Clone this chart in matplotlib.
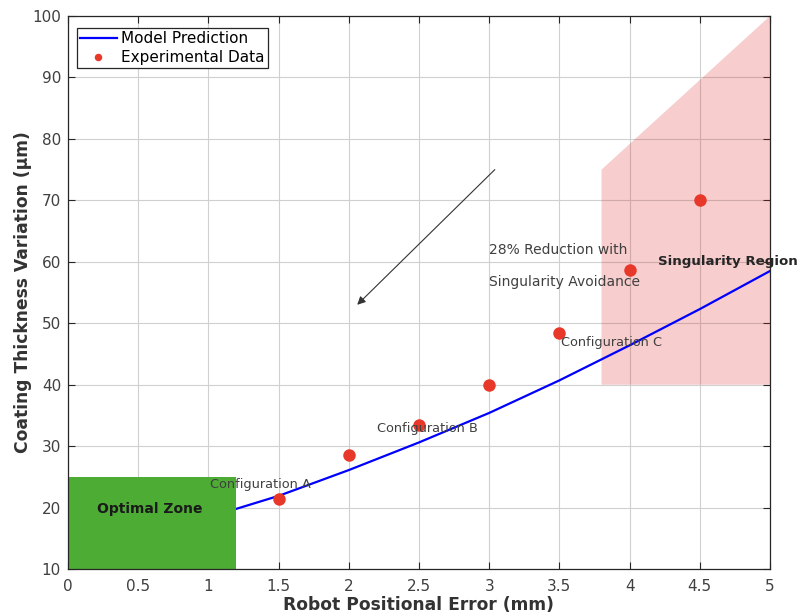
import matplotlib
matplotlib.use("Agg")
import matplotlib.pyplot as plt
from matplotlib.patches import Polygon, Rectangle

# Data
model_x = [1.2, 1.5, 2.0, 2.5, 3.0, 3.5, 4.0, 4.5, 5.0]
model_y = [19.8, 21.9, 26.1, 30.6, 35.4, 40.7, 46.4, 52.3, 58.5]
exp_x = [1.5, 2.0, 2.5, 3.0, 3.5, 4.0, 4.5]
exp_y = [21.4, 28.6, 33.4, 40.0, 48.4, 58.6, 70.0]
x_ticks = [0, 0.5, 1, 1.5, 2, 2.5, 3, 3.5, 4, 4.5, 5]
x_tick_labels = ["0", "0.5", "1", "1.5", "2", "2.5", "3", "3.5", "4", "4.5", "5"]
y_ticks = [10, 20, 30, 40, 50, 60, 70, 80, 90, 100]
optimal_zone = [(0, 10), (1.2, 25)]  # x0,y0 ; x1,y1
singularity_region = [(3.8, 40), (5, 40), (5, 100), (3.8, 75)]
config_labels = ["Configuration A", "Configuration B", "Configuration C"]
config_pos = [(1.37, 23.8), (2.56, 32.9), (3.87, 46.9)]

plt.rcParams['font.family'] = ['DejaVu Sans']
axc = '#262626'
fig = plt.figure(figsize=(8, 6.16), dpi=100)
ax = fig.add_axes([0.085, 0.0763, 0.8775, 0.8977])

ax.set_xlim(0, 5)
ax.set_ylim(10, 100)

ax.grid(True, color='#d0d0d0', linewidth=0.8, zorder=0)
ax.set_axisbelow(True)

# Singularity region
ax.add_patch(Polygon(singularity_region, closed=True, facecolor=(0.86, 0.12, 0.12),
                     alpha=0.22, edgecolor='none', zorder=1))

ln, = ax.plot(model_x, model_y, color='#0000ff', linewidth=1.6, zorder=3,
              label='Model Prediction')
sc, = ax.plot(exp_x, exp_y, 'o', color='#e8382a', markersize=9, markeredgewidth=0,
              zorder=4, label='Experimental Data')

# Optimal zone
(ox0, oy0), (ox1, oy1) = optimal_zone
ax.add_patch(Rectangle((ox0, oy0), ox1 - ox0, oy1 - oy0, facecolor='#4dac34',
                       edgecolor='none', zorder=5))
ax.text((ox0 + ox1) / 2 - 0.02, 19.8, 'Optimal Zone', fontsize=10, fontweight='bold',
        ha='center', va='center', color='#1a1a1a', zorder=6)

for lab, (tx, ty) in zip(config_labels, config_pos):
    ax.text(tx, ty, lab, fontsize=9.3, ha='center', va='center', color='#404040', zorder=6)

ax.text(3.0, 61.9, '28% Reduction with', fontsize=10, ha='left', va='center', color='#404040')
ax.text(3.0, 56.7, 'Singularity Avoidance', fontsize=10, ha='left', va='center', color='#404040')
ax.text(4.2, 60.0, 'Singularity Region', fontsize=9.6, fontweight='bold', ha='left',
        va='center', color='#262626')

ax.annotate('', xy=(2.06, 53.0), xytext=(3.04, 75.0),
            arrowprops=dict(arrowstyle='-|>', color='#333333', lw=0.8,
                            mutation_scale=12, shrinkA=0, shrinkB=0))

ax.set_xticks(x_ticks)
ax.set_xticklabels(x_tick_labels)
ax.set_yticks(y_ticks)
ax.tick_params(direction='in', length=5, width=0.8, top=True, right=True,
               colors=axc, labelsize=11, labelcolor='#404040')
ax.tick_params(axis='x', pad=7)
ax.tick_params(axis='y', pad=5)
for s in ax.spines.values():
    s.set_color(axc)
    s.set_linewidth(0.9)
    s.set_zorder(7)

ax.set_xlabel('Robot Positional Error (mm)', fontsize=12.3, fontweight='bold', color='#333333',
              labelpad=2)
ax.set_ylabel('Coating Thickness Variation (μm)', fontsize=12.3, fontweight='bold', color='#333333',
              labelpad=0)

leg = ax.legend(handles=[ln, sc], loc='upper left', bbox_to_anchor=(0.0128, 0.978),
                fontsize=11, frameon=True, fancybox=False,
                edgecolor='#262626', framealpha=1, borderpad=0.2, labelspacing=0.25,
                handlelength=2.4, handletextpad=0.3, borderaxespad=0.0, markerscale=0.6)
leg.get_frame().set_linewidth(0.9)
leg.set_zorder(8)

fig.savefig('out.png', dpi=100)
